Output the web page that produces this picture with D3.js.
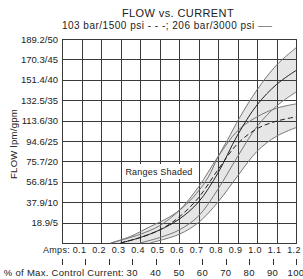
<!DOCTYPE html>
<meta charset='utf-8'>
<style>
    body { margin: 0; background: #fff; }
    text { font-family: 'Liberation Sans', Arial, sans-serif; fill: #222; }
</style>
<body>
    <script src='https://d3js.org/d3.v7.min.js'></script>
    <script>
        var width = 303,
            height = 279;

        // current (A) and flow (lpm)
        var ampTicks = [0.1, 0.2, 0.3, 0.4, 0.5, 0.6, 0.7, 0.8, 0.9, 1.0, 1.1, 1.2];
        var pctTicks = [0, 10, 20, 30, 40, 50, 60, 70, 80, 90, 100];
        var lpmTicks = [18.9, 37.9, 56.8, 75.7, 94.6, 113.6, 132.5, 151.4, 170.3, 189.2];
        var gpmTicks = [5, 10, 15, 20, 25, 30, 35, 40, 45, 50];

        // 206 bar / 3000 psi (solid)
        var hiUpper = [[0.25, 0], [0.35, 6], [0.45, 15], [0.55, 24], [0.62, 33], [0.69, 46], [0.75, 61], [0.8, 80], [0.85, 96], [0.91, 116], [1.0, 142], [1.1, 165], [1.2, 181]];
        var hiMid   = [[0.3, 0], [0.4, 5], [0.5, 12], [0.6, 22], [0.7, 38], [0.8, 65], [0.9, 100], [1.0, 128], [1.1, 147], [1.2, 160]];
        var hiLower = [[0.4, 0], [0.5, 5], [0.6, 12], [0.7, 25], [0.8, 50], [0.9, 80], [1.0, 108], [1.1, 127], [1.2, 140]];

        // 103 bar / 1500 psi (dashed)
        var loUpper = [[0.25, 0], [0.4, 8], [0.5, 16], [0.6, 30], [0.7, 52], [0.8, 80], [0.9, 104], [1.0, 117], [1.1, 125], [1.2, 129]];
        var loMid   = [[0.3, 0], [0.4, 5], [0.5, 12], [0.6, 24], [0.7, 42], [0.8, 68], [0.9, 92], [1.0, 106], [1.1, 113], [1.2, 117]];
        var loLower = [[0.45, 0], [0.6, 8], [0.7, 19], [0.8, 38], [0.9, 62], [1.0, 85], [1.1, 99], [1.2, 107]];

        var pLeft = 62, pRight = 296, pTop = 39, pBottom = 243;

        var svg = d3.select('body').append('svg')
            .attr('width', width)
            .attr('height', height);

        var x = d3.scaleLinear().domain([0, 1.2]).range([pLeft, pRight]);
        var y = d3.scaleLinear().domain([0, 189.2]).range([pBottom, pTop]);
        var xp = d3.scaleLinear().domain([0, 100]).range([pLeft, pRight]);

        var line = d3.line()
            .x(function(d) { return x(d[0]); })
            .y(function(d) { return y(d[1]); })
            .curve(d3.curveCatmullRom);

        // shaded ranges
        [[hiUpper, hiLower], [loUpper, loLower]].forEach(function(b) {
            var back = b[1].slice().reverse();
            svg.append('path')
                .attr('d', line(b[0]) + line(back).replace(/^M/, 'L') + 'Z')
                .attr('fill', '#e6e6e6');
        });

        // grid
        var g = svg.append('g').attr('stroke', '#3a3a3a').attr('stroke-width', 1);
        g.selectAll('.v').data([0].concat(ampTicks)).enter().append('line')
            .attr('x1', function(d) { return Math.round(x(d)) + 0.5; })
            .attr('x2', function(d) { return Math.round(x(d)) + 0.5; })
            .attr('y1', pTop).attr('y2', pBottom);
        g.selectAll('.h').data([0].concat(lpmTicks)).enter().append('line')
            .attr('y1', function(d) { return Math.round(y(d)) + 0.5; })
            .attr('y2', function(d) { return Math.round(y(d)) + 0.5; })
            .attr('x1', pLeft).attr('x2', pRight + 1);

        // curves
        [hiUpper, hiLower, loUpper, loLower].forEach(function(c) {
            svg.append('path').attr('d', line(c))
                .attr('fill', 'none').attr('stroke', '#777').attr('stroke-width', 1);
        });
        svg.append('path').attr('d', line(hiMid))
            .attr('fill', 'none').attr('stroke', '#222').attr('stroke-width', 1);
        svg.append('path').attr('d', line(loMid))
            .attr('fill', 'none').attr('stroke', '#222').attr('stroke-width', 1)
            .attr('stroke-dasharray', '5,3');

        // label box
        svg.append('rect').attr('x', 123).attr('y', 164).attr('width', 72).attr('height', 15).attr('fill', '#fff');
        svg.append('text').attr('x', 159).attr('y', 175).attr('text-anchor', 'middle')
            .style('font-size', '9px').style('letter-spacing', '0.2px').text('Ranges Shaded');

        // y labels
        svg.selectAll('.yl').data(lpmTicks).enter().append('text')
            .attr('x', 58)
            .attr('y', function(d) { return y(d) + 3.5; })
            .attr('text-anchor', 'end')
            .style('font-size', '9.5px')
            .text(function(d, i) { return d.toFixed(1) + '/' + gpmTicks[i]; });

        svg.append('text')
            .attr('transform', 'translate(17,144) rotate(-90)')
            .attr('text-anchor', 'middle')
            .style('font-size', '9.5px')
            .style('letter-spacing', '0.3px')
            .text('FLOW lpm/gpm');

        // amps row
        svg.append('text').attr('x', 70).attr('y', 253).attr('text-anchor', 'end')
            .style('font-size', '9px').style('letter-spacing', '0.3px').text('Amps:');
        svg.selectAll('.al').data(ampTicks).enter().append('text')
            .attr('x', function(d) { return x(d) - 2; })
            .attr('y', 253)
            .attr('text-anchor', 'middle')
            .style('font-size', '9px')
            .style('letter-spacing', '0.3px')
            .text(function(d) { return d.toFixed(1); });

        // percent row
        svg.selectAll('.pt').data(pctTicks).enter().append('line')
            .attr('x1', function(d) { return Math.round(xp(d)) + 0.5; })
            .attr('x2', function(d) { return Math.round(xp(d)) + 0.5; })
            .attr('y1', 259).attr('y2', 265)
            .attr('stroke', '#333');
        svg.append('text').attr('x', 124).attr('y', 276).attr('text-anchor', 'end')
            .style('font-size', '9.5px').style('letter-spacing', '0.3px')
            .text('% of Max. Control Current:');
        svg.selectAll('.pl').data(pctTicks.filter(function(d) { return d >= 30; })).enter().append('text')
            .attr('x', function(d) { return xp(d); })
            .attr('y', 276)
            .attr('text-anchor', 'middle')
            .style('font-size', '9.5px')
            .style('letter-spacing', '0.3px')
            .text(function(d) { return d; });

        // titles
        svg.append('text').attr('x', 178).attr('y', 17).attr('text-anchor', 'middle')
            .style('font-size', '11px').style('letter-spacing', '0.4px').text('FLOW vs. CURRENT');
        var sub = svg.append('text').attr('x', 167).attr('y', 29).attr('text-anchor', 'middle')
            .style('font-size', '10px').style('letter-spacing', '0.5px');
        sub.append('tspan').text('103 bar/1500 psi - - -; 206 bar/3000 psi ');
        sub.append('tspan').attr('dy', -1).style('font-size', '7px').style('letter-spacing', '0px').text('——');
    </script>
</body>
